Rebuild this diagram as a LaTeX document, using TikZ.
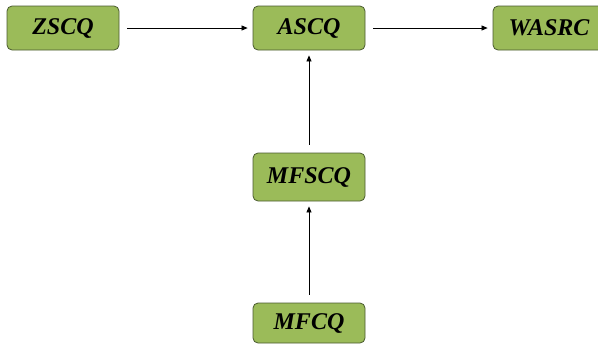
\documentclass[tikz,border=0pt]{standalone}
\usepackage{fontspec}
\setmainfont{Liberation Serif}[BoldItalicFont={Liberation Serif Bold Italic}]
\usetikzlibrary{arrows.meta}
\definecolor{boxgreen}{HTML}{9BBB59}
\definecolor{boxline}{HTML}{4A5A30}
\tikzset{
  box/.style={draw=boxline, line width=0.8pt, fill=boxgreen, rounded corners=5pt,
    minimum height=44pt, inner sep=0pt, font=\fontsize{24}{26}\selectfont\bfseries\itshape},
  conn/.style={-{Triangle[width=5pt,length=6pt]}, line width=0.7pt, shorten <=8pt, shorten >=5pt}
}
\begin{document}
\begin{tikzpicture}[x=1pt,y=-1pt]
\useasboundingbox (0,0) rectangle (598,349);
\node[box, minimum width=112pt] (zscq) at (63,28) {ZSCQ};
\node[box, minimum width=112pt] (ascq) at (309,28) {ASCQ};
\node[box, minimum width=112pt] (wasrc) at (549,28) {WASRC};
\node[box, minimum width=112pt, minimum height=48pt] (mfscq) at (309,177) {MFSCQ};
\node[box, minimum width=112pt, minimum height=40pt] (mfcq) at (309,323) {MFCQ};
\draw[conn] (zscq) -- (ascq);
\draw[conn] (ascq) -- (wasrc);
\draw[conn] (mfscq) -- (ascq);
\draw[conn] (mfcq) -- (mfscq);
\end{tikzpicture}
\end{document}
